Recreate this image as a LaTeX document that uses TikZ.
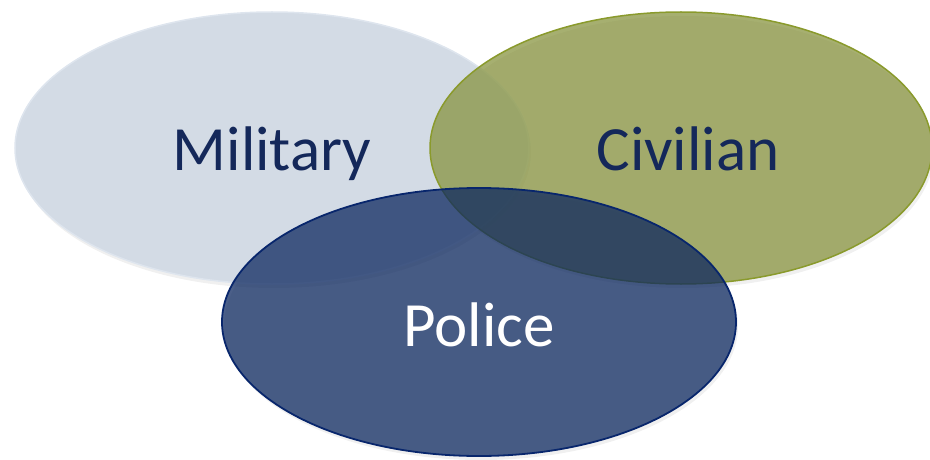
\documentclass[tikz,border=0pt]{standalone}
\usepackage{fontspec}
\setmainfont{Carlito}
\usetikzlibrary{shapes.geometric}
\definecolor{milfill}{RGB}{211,219,229}
\definecolor{milline}{RGB}{222,229,238}
\definecolor{civfill}{RGB}{136,148,64}
\definecolor{civline}{RGB}{138,154,44}
\definecolor{polfill}{RGB}{12,39,95}
\definecolor{polline}{RGB}{8,38,108}
\definecolor{navytext}{RGB}{20,40,90}
\tikzset{
  venn/.style={ellipse, inner sep=0pt},
  shadowell/.style={ellipse, inner sep=0pt, fill=black, fill opacity=0.06, draw=none},
  lbl/.style={anchor=base, font=\fontsize{63}{70}\selectfont, inner sep=0pt}
}
\begin{document}
\begin{tikzpicture}[x=1pt,y=-1pt]
\useasboundingbox (0,0) rectangle (930,460);
\clip (0,0) rectangle (930,460);
% soft shadows
\node[shadowell, minimum width=514pt, minimum height=272pt] (mils) at (274,152) {};
\node[shadowell, minimum width=502pt, minimum height=272pt] (civs) at (683,152) {};
\node[shadowell, minimum width=514pt, minimum height=268pt] (pols) at (481,326) {};
% ellipses
\node[venn, minimum width=514pt, minimum height=272pt, fill=milfill, draw=milline, line width=1.5pt] (mil) at (272,148) {};
\node[venn, minimum width=502pt, minimum height=272pt, fill=civfill, fill opacity=0.75, draw=civline, draw opacity=1, line width=1.5pt] (civ) at (681,148) {};
\node[venn, minimum width=514pt, minimum height=268pt, fill=polfill, fill opacity=0.74, draw=polline, draw opacity=1, line width=1.8pt] (pol) at (479,322) {};
% labels
\node[lbl, text=navytext] (miltext) at (272,170) {Military};
\node[lbl, text=navytext] (civtext) at (688,170) {Civilian};
\node[lbl, text=white] (poltext) at (479,346) {Police};
\end{tikzpicture}
\end{document}
